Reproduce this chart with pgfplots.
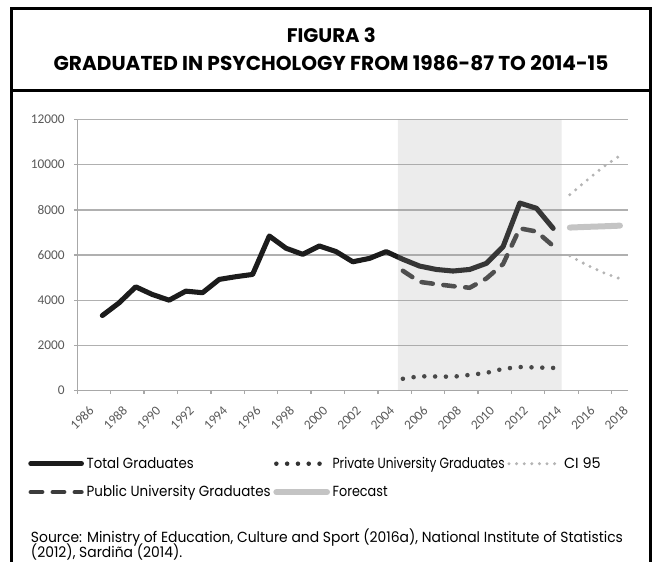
\documentclass[border=0pt]{standalone}
\usepackage{pgfplots}
\pgfplotsset{compat=1.18}
\usepackage{fontspec}
\usepackage{graphicx}
\setmainfont{Poppins}
\newfontfamily\tickfont{Carlito}
\definecolor{tickgray}{HTML}{595959}
\definecolor{axisgray}{HTML}{A8A8A8}
\definecolor{gridgray}{HTML}{B0B0B0}
\definecolor{totalc}{HTML}{1C1C1C}
\definecolor{publicc}{HTML}{3C3C3C}
\definecolor{privatec}{HTML}{333333}
\definecolor{cic}{HTML}{B4B4B4}
\definecolor{forec}{HTML}{C4C4C4}
\newsavebox\tmpbox
\newlength\tmplen
\newcommand\srcfont{\fontsize{11}{13}\selectfont}
\newcommand\fitto[2]{\resizebox{#1}{\height}{#2}}
\pgfplotsset{legend image code/.code={\draw[#1] (0pt,0pt) -- (38pt,0pt);}}

\pgfplotstableread{
year val
1987 3320
1988 3880
1989 4590
1990 4250
1991 4000
1992 4400
1993 4330
1994 4920
1995 5040
1996 5140
1997 6840
1998 6300
1999 6030
2000 6400
2001 6150
2002 5700
2003 5850
2004 6150
2005 5810
2006 5510
2007 5360
2008 5290
2009 5360
2010 5630
2011 6370
2012 8300
2013 8070
2014 7180
}\totaltab

\pgfplotstableread{
year val
2005 5300
2006 4810
2007 4710
2008 4620
2009 4550
2010 4960
2011 5600
2012 7180
2013 7040
2014 6400
}\publictab

\pgfplotstableread{
year val
2005 520
2006 630
2007 620
2008 610
2009 690
2010 780
2011 960
2012 1040
2013 1020
2014 1000
}\privatetab

\pgfplotstableread{
year fc up lo
2015 7215 8670 5960
2016 7245 9300 5560
2017 7270 9900 5220
2018 7300 10400 4950
}\foretab

\begin{document}%
\sbox\tmpbox{\srcfont Source: Ministry of Education, Culture and Sport (2016a), National Institute of Statistics}%
\setlength\tmplen{\wd\tmpbox}%
\pgfmathsetmacro\srcsx{444/\tmplen}%
\begin{tikzpicture}[x=0.75pt,y=0.75pt]
\useasboundingbox (0,0) rectangle (655,561);
% frame
\draw[line width=2pt] (11.7,-5) -- (11.7,552.7) -- (650.5,552.7) -- (650.5,-5);
\draw[line width=2pt] (11.7,470.5) -- (650.5,470.5);
% titles
\node[anchor=base, inner sep=0pt] at (331.3,518.7) {\resizebox{66.75pt}{11pt}{\bfseries FIGURA 3}};
\node[anchor=base, inner sep=0pt] at (331,490.5) {\resizebox{416pt}{11.25pt}{\bfseries GRADUATED IN PSYCHOLOGY FROM 1986-87 TO 2014-15}};

\begin{axis}[
  at={(57.975pt,127.875pt)}, anchor=south west,
  width=413.25pt, height=203.25pt, scale only axis,
  xmin=1985.5, xmax=2018.5, ymin=0, ymax=12000,
  scaled y ticks=false,
  axis x line*=bottom, axis y line*=left,
  axis line style={draw=axisgray, line width=1pt},
  ymajorgrids, grid style={draw=gridgray, line width=1pt},
  tick align=outside, major tick length=2.6pt,
  tick style={draw=axisgray, line width=1pt},
  xtick={1985.5,1987.5,...,2017.5},
  xticklabels={1986,1988,1990,1992,1994,1996,1998,2000,2002,2004,2006,2008,2010,2012,2014,2016,2018},
  ytick={0,2000,...,12000},
  yticklabels={0,2000,4000,6000,8000,10000,12000},
  tick label style={font=\tickfont\fontsize{10}{12}\selectfont, text=tickgray},
  xticklabel style={anchor=east, inner sep=1pt, xshift=11.5pt, yshift=-10pt, rotate=45},
  yticklabel style={xshift=-3.4pt},
  legend columns=3,
  legend cell align=left,
  legend style={at={(-0.0895,-0.235)}, anchor=north west, draw=none, fill=none,
    inner sep=0pt, row sep=7.4pt, font=\srcfont,
    /tikz/every even column/.append style={column sep=0pt}},
]
\addplot[totalc, line width=3.8pt, line join=round, line cap=round]
  table[x=year,y=val] {\totaltab};
\addlegendentry{\fitto{80.3pt}{Total Graduates}}
\addplot[privatec, line width=3.4pt, line cap=round, dash pattern=on 0pt off 8.1pt]
  table[x=year,y=val] {\privatetab};
\addlegendentry{\fitto{129pt}{Private University Graduates}}
\addplot[cic, line width=2.5pt, line cap=round, dash pattern=on 0pt off 5.7pt]
  table[x=year,y=up] {\foretab};
\addlegendentry{\fitto{27.5pt}{CI 95}}
\addplot[publicc, line width=3.4pt, line cap=round, line join=round, dash pattern=on 8.5pt off 8pt]
  table[x=year,y=val] {\publictab};
\addlegendentry{\fitto{138pt}{Public University Graduates}}
\addplot[forec, line width=4.5pt, line cap=round]
  table[x=year,y=fc] {\foretab};
\addlegendentry{\fitto{41.25pt}{Forecast}}
\addplot[forget plot, cic, line width=2.5pt, line cap=round, dash pattern=on 0pt off 5.7pt]
  table[x=year,y=lo] {\foretab};
% shaded period, drawn over the lines
\addplot[forget plot, draw=none, fill=black!38, fill opacity=0.2]
  coordinates {(2004.7,0) (2004.7,12000) (2014.5,12000) (2014.5,0)} \closedcycle;
\end{axis}

\node[anchor=base west, inner sep=0pt] at (30.7,18.3) {\scalebox{\srcsx}[1]{\srcfont Source: Ministry of Education, Culture and Sport (2016a), National Institute of Statistics}};
\node[anchor=base west, inner sep=0pt] at (30.7,3.8) {\scalebox{\srcsx}[1]{\srcfont (2012), Sardiña (2014).}};
\end{tikzpicture}%
\end{document}
